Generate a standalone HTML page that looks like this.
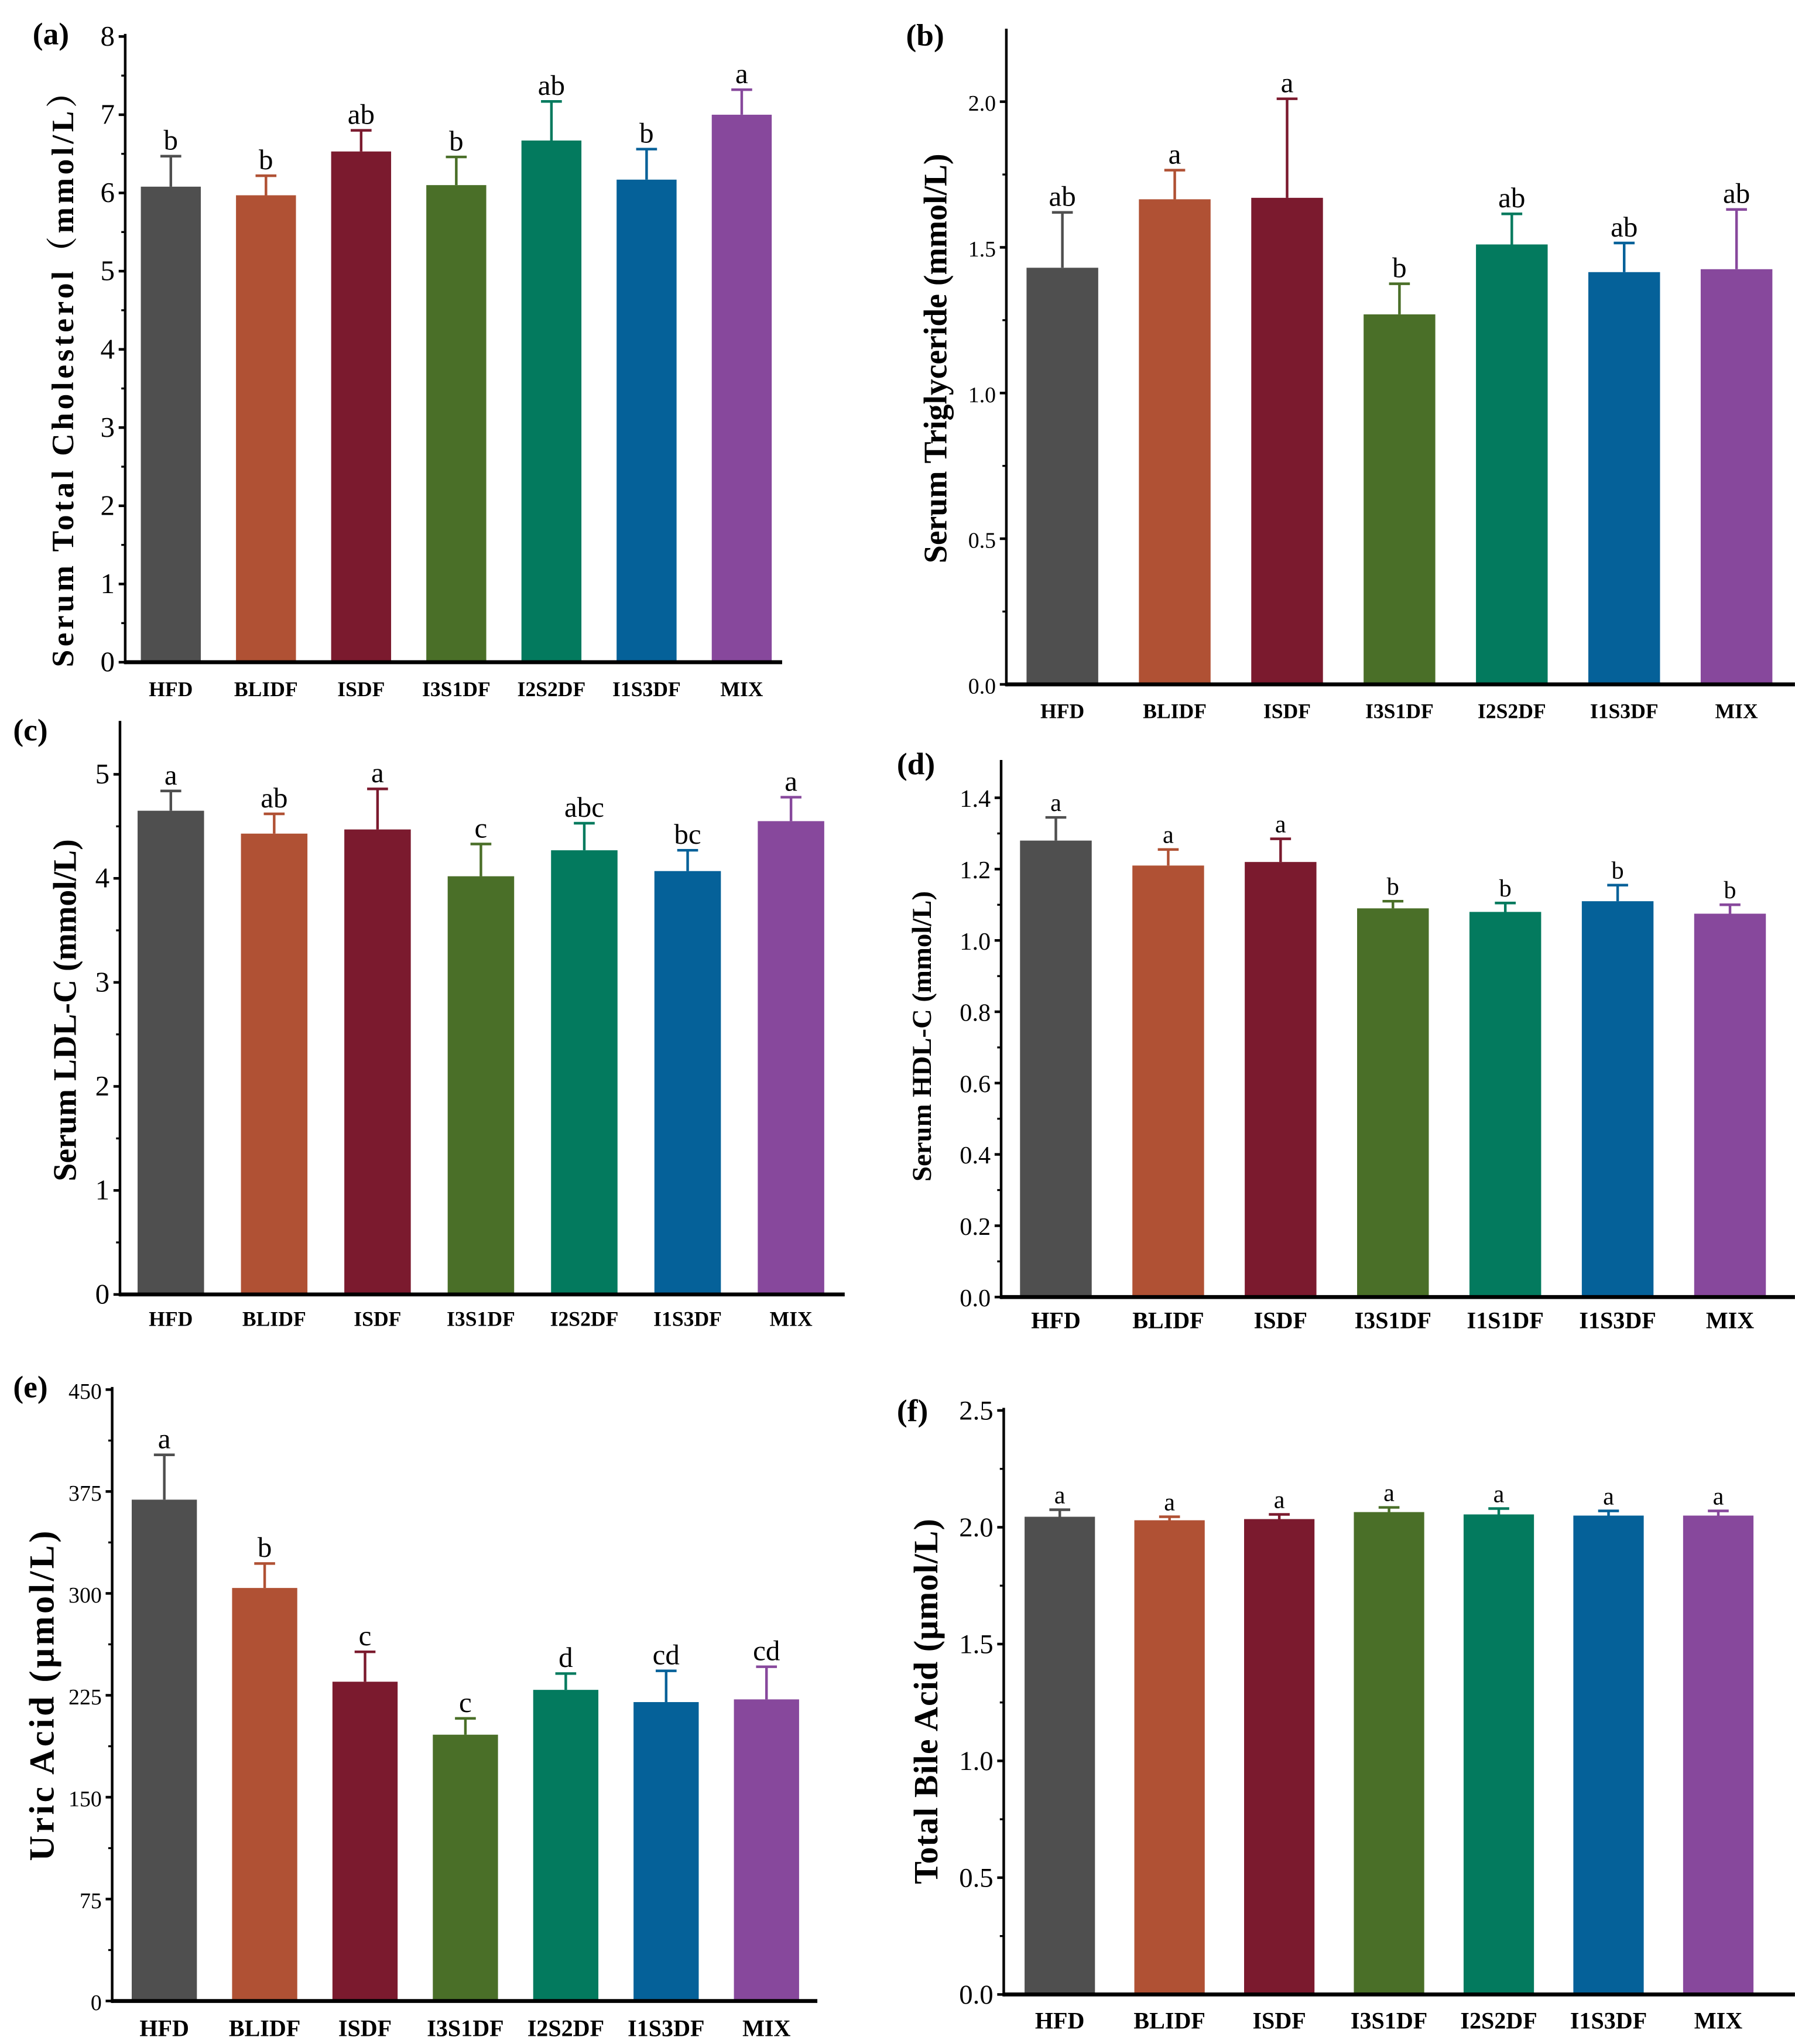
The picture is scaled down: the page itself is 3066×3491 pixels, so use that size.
<!DOCTYPE html>
<html><head><meta charset="utf-8"><style>
html,body{margin:0;padding:0;background:#fff;}
svg{display:block;}
text{font-family:"Liberation Serif","Noto Serif CJK SC",serif;}
</style></head><body>
<svg id="fig" width="3066" height="3491" viewBox="0 0 1377 1568" xmlns="http://www.w3.org/2000/svg"></svg>
<script>
const colors = ["#4f4f4f","#b05134","#7b1a2e","#4a6f28","#037a5e","#056199","#87489c"];
const catsA = ["HFD","BLIDF","ISDF","I3S1DF","I2S2DF","I1S3DF","MIX"];
const catsD = ["HFD","BLIDF","ISDF","I3S1DF","I1S1DF","I1S3DF","MIX"];
const valA = [6.08,5.97,6.53,6.10,6.67,6.17,7.00];
const errA = [0.39,0.25,0.27,0.36,0.50,0.39,0.32];
const sigA = ["b","b","ab","b","ab","b","a"];
const ticksA = [0,1,2,3,4,5,6,7,8];
const valB = [1.43,1.665,1.67,1.27,1.51,1.415,1.425];
const errB = [0.19,0.10,0.34,0.105,0.105,0.10,0.205];
const sigB = ["ab","a","a","b","ab","ab","ab"];
const ticksB = [0.0,0.5,1.0,1.5,2.0];
const valC = [4.65,4.43,4.47,4.02,4.27,4.07,4.55];
const errC = [0.19,0.19,0.39,0.31,0.26,0.20,0.23];
const sigC = ["a","ab","a","c","abc","bc","a"];
const ticksC = [0,1,2,3,4,5];
const valD = [1.28,1.21,1.22,1.09,1.08,1.11,1.075];
const errD = [0.065,0.045,0.065,0.02,0.025,0.045,0.025];
const sigD = ["a","a","a","b","b","b","b"];
const ticksD = [0.0,0.2,0.4,0.6,0.8,1.0,1.2,1.4];
const valE = [369,304,235,196,229,220,222];
const errE = [33,18,22,12,12,23,24];
const sigE = ["a","b","c","c","d","cd","cd"];
const ticksE = [0,75,150,225,300,375,450];
const valF = [2.045,2.03,2.035,2.065,2.055,2.05,2.05];
const errF = [0.03,0.015,0.02,0.02,0.025,0.02,0.02];
const sigF = ["a","a","a","a","a","a","a"];
const ticksF = [0.0,0.5,1.0,1.5,2.0,2.5];

const NS="http://www.w3.org/2000/svg";
const svg=document.getElementById('fig');
function mk(tag,attrs,parent){const e=document.createElementNS(NS,tag);for(const k in attrs)e.setAttribute(k,attrs[k]);(parent||svg).appendChild(e);return e;}

function panel(p){
  const g=mk('g',{});
  
  
  const y=v=>p.y0+(v-p.vmin)/(p.vmax-p.vmin)*(p.y1-p.y0);
  p.vals.forEach((v,i)=>{
    const cx=p.c0+i*p.step;
    const r=mk('rect',{x:cx-p.bw/2,y:y(v),width:p.bw,height:p.y0-y(v),fill:colors[i]},g);
    
    
    const top=y(v+p.errs[i]);
    const eb=mk('path',{d:`M${cx},${y(v)} V${top} M${cx-8},${top} H${cx+8}`,stroke:colors[i],'stroke-width':2,fill:'none'},g);
    
    
    const t=mk('text',{x:cx,y:top-5,'text-anchor':'middle','font-size':p.sf||22,fill:'#000'},g);
    t.textContent=p.sigs[i];
    
    
    const xl=mk('text',{x:cx,y:p.ly,'text-anchor':'middle','font-size':p.lf||16,'font-weight':'bold'},g);
    xl.textContent=p.cats[i];
    
    
  });
  const tstep=p.ticks[1]-p.ticks[0];
  p.ticks.forEach((tv,i)=>{
    const ty=y(tv);
    mk('line',{x1:p.ax-5,x2:p.ax,y1:ty,y2:ty,stroke:'#000','stroke-width':2},g);
    if(i<p.ticks.length-1){const my=y(tv+tstep/2);mk('line',{x1:p.ax-3,x2:p.ax,y1:my,y2:my,stroke:'#000','stroke-width':1.5},g);}
    const tl=mk('text',{x:p.ax-8,y:ty+7,'text-anchor':'end','font-size':p.tf||22},g);
    tl.textContent=p.fmt?tv.toFixed(1):String(tv);
    
    
  });
  const ya=mk('line',{x1:p.ax,x2:p.ax,y1:p.ytop,y2:p.y0+1.5,stroke:'#000','stroke-width':2},g);
  
  
  const xa=mk('line',{x1:p.ax,x2:p.xend,y1:p.y0,y2:p.y0,stroke:'#000','stroke-width':3},g);
  
  
  const tt=mk('text',{x:0,y:0,'text-anchor':'middle','font-size':p.tsz||24,'font-weight':'bold',transform:`translate(${p.tx},${p.ty}) rotate(-90)`,'letter-spacing':p.ls||0},g);
  tt.textContent=p.title;
  
  
  const pl=mk('text',{x:p.px,y:p.py,'font-size':24,'font-weight':'bold'},g);
  pl.textContent='('+p.id+')';
  
  
}

panel({id:'a',cats:catsA,vals:valA,errs:errA,sigs:sigA,ticks:ticksA,vmin:0,vmax:8,y0:508,y1:28,ytop:26,ax:96,xend:600,c0:131,step:73,bw:46,ly:534,tx:56,ty:284,title:'Serum Total Cholesterol（mmol/L）',tsz:24,ls:2.5,px:25,py:34});
panel({id:'b',cats:catsA,vals:valB,errs:errB,sigs:sigB,ticks:ticksB,vmin:0,vmax:2,y0:525,y1:78,ytop:22,ax:772,xend:1377,c0:815,step:86.2,bw:55,ly:551,tx:726,ty:275,title:'Serum Triglyceride (mmol/L)',tsz:25,fmt:1,tf:17,px:695,py:35});
panel({id:'c',cats:catsA,vals:valC,errs:errC,sigs:sigC,ticks:ticksC,vmin:0,vmax:5,y0:993,y1:594,ytop:553,ax:92,xend:648,c0:131,step:79.3,bw:51,ly:1017,tx:58,ty:775,title:'Serum LDL-C (mmol/L)',tsz:25,px:10,py:568});
panel({id:'d',cats:catsD,vals:valD,errs:errD,sigs:sigD,ticks:ticksD,vmin:0,vmax:1.4,y0:995,y1:612,ytop:583,ax:768,xend:1377,c0:810,step:86.2,bw:55,ly:1019,lf:18,tx:714,ty:795,title:'Serum HDL-C (mmol/L)',fmt:1,tf:19,sf:19,tsz:21,px:688,py:594});
panel({id:'e',cats:catsA,vals:valE,errs:errE,sigs:sigE,ticks:ticksE,vmin:0,vmax:450,y0:1535,y1:1066,ytop:1064,ax:86,xend:627,c0:126,step:77,bw:50,ly:1562,lf:18,tx:41,ty:1300,title:'Uric Acid (μmol/L)',tf:17,tsz:27,ls:2,px:10,py:1072});
panel({id:'f',cats:catsA,vals:valF,errs:errF,sigs:sigF,ticks:ticksF,vmin:0,vmax:2.5,y0:1530,y1:1082,ytop:1080,ax:770,xend:1377,c0:813,step:84.2,bw:54,ly:1556,lf:18,tx:719,ty:1305,title:'Total Bile Acid (μmol/L)',fmt:1,tf:21,sf:19,tsz:26,ls:0.5,px:688,py:1090});
</script>
</body></html>
